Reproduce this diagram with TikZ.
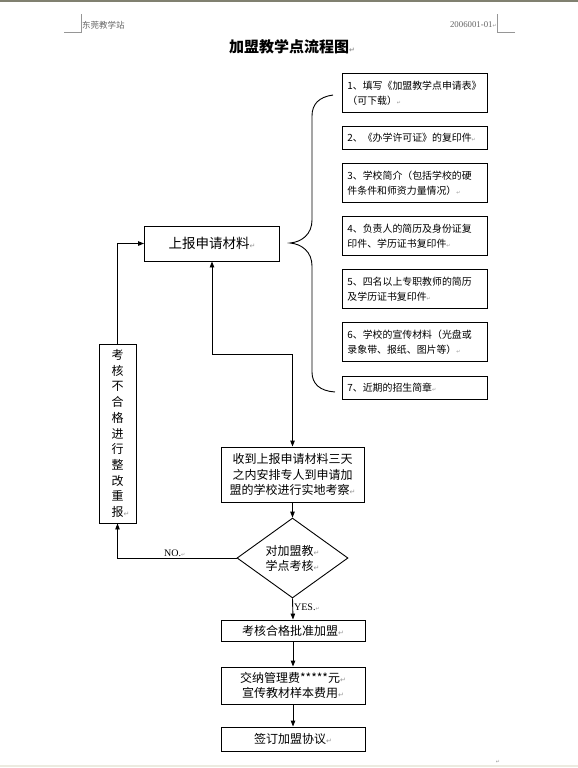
\documentclass[tikz,border=0pt]{standalone}
\usepackage{fontspec}
\setmainfont{Noto Sans CJK SC}
\newfontfamily\symf{DejaVu Sans}
\newfontfamily\serf{Liberation Serif}
\usetikzlibrary{shapes.geometric,arrows.meta}
\definecolor{topc}{RGB}{128,128,112}
\definecolor{botc}{RGB}{236,235,224}
\definecolor{hdrc}{RGB}{100,100,100}
\definecolor{markc}{RGB}{150,150,150}
\newcommand\retm[1][6]{{\symf\fontsize{#1}{#1}\selectfont\color{markc}↵}}
\begin{document}
\begin{tikzpicture}[x=1pt,y=-1pt,
  box/.style={draw,line width=0.9pt,inner sep=0pt,align=center},
  item/.style={draw,line width=0.9pt,minimum width=145pt,text width=135pt,inner xsep=5pt,inner ysep=0pt,align=left,font=\fontsize{9.9}{15}\selectfont,anchor=north west},
  arr/.style={line width=0.9pt,-{Triangle[length=6pt,width=4.5pt]}},
  arrb/.style={line width=0.9pt,{Triangle[length=6pt,width=4.5pt]}-{Triangle[length=6pt,width=4.5pt]}},
  lab/.style={font=\serf\fontsize{10}{10}\selectfont,inner sep=1pt},
  cornermark/.style={draw=markc,line width=0.6pt}]
\useasboundingbox (0,0) rectangle (578,768);
% page frame
\fill[topc] (0,0) rectangle (578,2);
\fill[botc] (0,765) rectangle (578,767);
% header
\draw[cornermark] (64,32) -- (81,32) -- (81,14);
\draw[cornermark] (515,32) -- (497,32) -- (497,14);
\node[anchor=west,inner sep=0pt,text=hdrc,font=\fontsize{8.5}{8.5}\selectfont] (hl) at (82,25) {东莞教学站};
\node[anchor=east,inner sep=0pt,text=hdrc,font=\serf\fontsize{8.8}{8.8}\selectfont] (hr) at (497,25) {2006001-01\retm[5]};
% title
\node[anchor=west,inner sep=0pt,font=\bfseries\fontsize{15}{15}\selectfont] (title) at (229,47) {加盟教学点流程图\retm[7]};
% material list
\node[item,minimum height=39pt] (i1) at (342,73) {1、填写《加盟教学点申请表》\\（可下载）\retm[5]};
\node[item,minimum height=23pt] (i2) at (342,126) {2、《办学许可证》的复印件\retm[5]};
\node[item,minimum height=39pt] (i3) at (342,163) {3、学校简介（包括学校的硬\\件条件和师资力量情况）\retm[5]};
\node[item,minimum height=39pt] (i4) at (342,216) {4、负责人的简历及身份证复\\印件、学历证书复印件\retm[5]};
\node[item,minimum height=39pt] (i5) at (342,269) {5、四名以上专职教师的简历\\及学历证书复印件\retm[5]};
\node[item,minimum height=39pt] (i6) at (342,322) {6、学校的宣传材料（光盘或\\录象带、报纸、图片等）\retm[5]};
\node[item,minimum height=23pt] (i7) at (342,376) {7、近期的招生简章\retm[5]};
% brace
\draw[line width=0.9pt] (333,95) .. controls (319,97) and (312,104) .. (312,116) -- (312,220)
  .. controls (312,234) and (302,242) .. (290,243)
  .. controls (302,244) and (312,252) .. (312,266) -- (312,372)
  .. controls (312,384) and (320,391) .. (335,392);
% main flow
\node[box,minimum width=135pt,minimum height=35pt,font=\fontsize{13.5}{13.5}\selectfont] (main) at (212,243.5) {上报申请材料\retm[7]};
\node[box,minimum width=37pt,minimum height=179pt,font=\fontsize{12}{15.7}\selectfont] (rej) at (117.5,433.5) {考\\核\\不\\合\\格\\进\\行\\整\\改\\重\\报\rlap{\retm[7]}};
\node[box,minimum width=143pt,minimum height=55pt,font=\fontsize{12}{15.5}\selectfont] (rev) at (292.5,474.5) {收到上报申请材料三天\\之内安排专人到申请加\\盟的学校进行实地考察\retm[7]};
\node[draw,line width=0.9pt,diamond,inner sep=0pt,minimum width=111pt,minimum height=70pt,align=center,font=\fontsize{12}{15}\selectfont] (dia) at (292.5,558) {对加盟教\retm[7]\\学点考核\retm[7]};
\node[box,minimum width=144pt,minimum height=21pt,font=\fontsize{12}{12}\selectfont] (ok) at (293,630.5) {考核合格批准加盟\retm[7]};
\node[box,minimum width=144pt,minimum height=37pt,font=\fontsize{12}{15}\selectfont] (fee) at (293,685.5) {交纳管理费*****元\retm[7]\\宣传教材样本费用\retm[7]};
\node[box,minimum width=144pt,minimum height=24pt,font=\fontsize{12}{12}\selectfont] (sign) at (293,739) {签订加盟协议\retm[7]};
\node[inner sep=0pt] (endm) at (498,762) {\retm[5]};
% connectors
\coordinate (k) at (292.5,354);
\draw[arr] (rej.north) |- (main.west);
\draw[arrb] (main.south) |- (k) -- (rev.north);
\draw[arr] (rev.south) -- (dia.north);
\draw[arr] (dia.west) -| node[lab,above,pos=0.26] {NO.\retm[5]} (rej.south);
\draw[arr] (dia.south) -- node[lab,right,pos=0.42] {YES.\retm[5]} (ok.north);
\draw[arr] (ok.south) -- (fee.north);
\draw[arr] (fee.south) -- (sign.north);
\end{tikzpicture}
\end{document}
